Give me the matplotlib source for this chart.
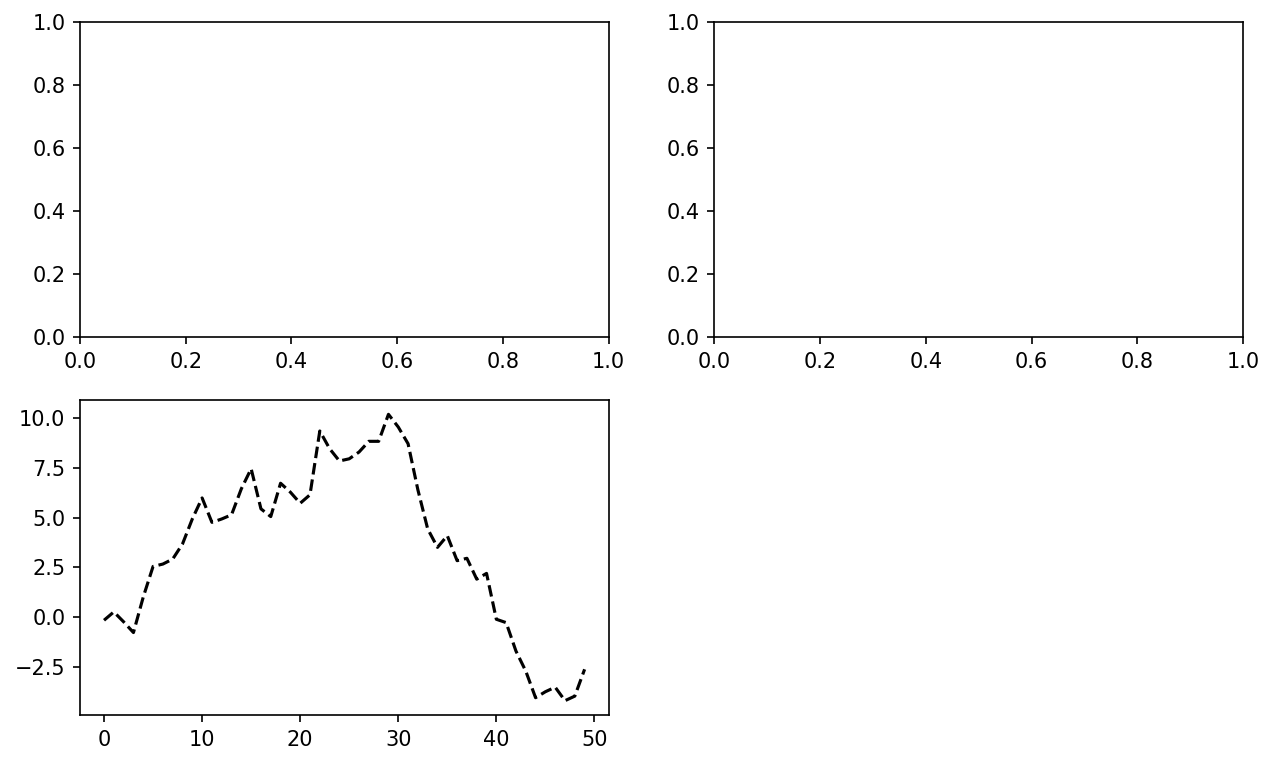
import numpy as np
import matplotlib
matplotlib.use('Agg')
import matplotlib.pyplot as plt

# cumulative random walk
walk = [-0.17, 0.25, -0.25, -0.79, 1.0, 2.54, 2.66, 2.91, 3.67, 4.93,
        5.99, 4.76, 4.93, 5.14, 6.45, 7.46, 5.44, 5.05, 6.73, 6.28,
        5.72, 6.15, 9.36, 8.47, 7.85, 7.96, 8.3, 8.84, 8.84, 10.2,
        9.56, 8.72, 6.4, 4.43, 3.5, 4.09, 2.83, 2.95, 1.9, 2.19,
        -0.12, -0.29, -1.72, -2.73, -4.07, -3.77, -3.54, -4.22, -3.99, -2.64]

W, H = 1274, 765
fig = plt.figure(figsize=(W / 150, H / 150), dpi=150)
fig.subplots_adjust(left=80 / W, right=1243 / W, top=1 - 22 / H, bottom=1 - 715 / H,
                    wspace=0.2, hspace=0.2)
ax1 = fig.add_subplot(2, 2, 1)
ax2 = fig.add_subplot(2, 2, 2)
ax3 = fig.add_subplot(2, 2, 3)
ax3.plot(walk, 'k--')

fig.savefig('out.png', dpi=150)
